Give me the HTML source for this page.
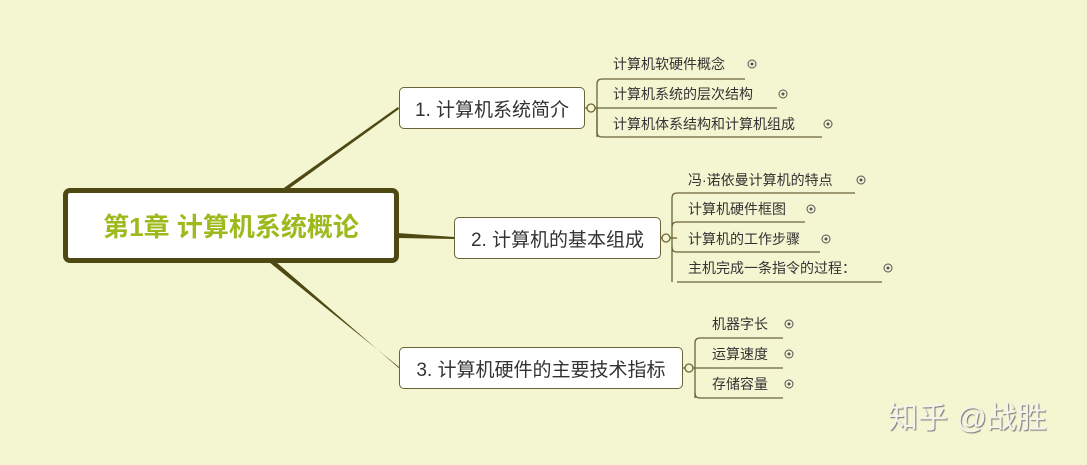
<!DOCTYPE html>
<html><head><meta charset="utf-8"><style>
body{margin:0;width:1087px;height:465px;background:#f4f5d1;position:relative;overflow:hidden;font-family:"Liberation Sans","Noto Sans CJK SC",sans-serif;}
.t{position:absolute;font-size:14px;color:#333;white-space:nowrap;line-height:18px}
.b{position:absolute;background:#fff;border:1px solid #6b6438;border-radius:5px;box-sizing:border-box;font-size:19px;color:#333;display:flex;align-items:center;justify-content:center;white-space:nowrap}
</style></head><body>
<svg width="1087" height="465" style="position:absolute;left:0;top:0">
<g fill="#4e4812">
<polygon points="281,190 287,190 399,109 398,107"/>
<polygon points="397,233 397,238 454,239 454,237"/>
<polygon points="269,262 276,262 400,369 399,367"/>
</g>
<g stroke="#6b6438" stroke-width="1.3" fill="none">
<path d="M597,137 V84 q0,-5 5,-5 H745"/><path d="M585,108 H777"/><path d="M597,108 V132 q0,5 5,5 H822"/>
<circle cx="591" cy="108" r="4" fill="#f4f5d1"/>
<path d="M672,282 V198 q0,-5 5,-5 H855"/><path d="M661,238 H677"/><path d="M672,227 q0,-5 5,-5 H805"/><path d="M672,247 q0,5 5,5 H820"/><path d="M677,282 H882"/>
<circle cx="666" cy="238" r="4" fill="#f4f5d1"/>
<path d="M695,398 V343 q0,-5 5,-5 H783"/><path d="M683,368 H783"/><path d="M695,393 q0,5 5,5 H783"/>
<circle cx="689" cy="368" r="4" fill="#f4f5d1"/>
</g>
<g stroke="#555" stroke-width="1" fill="none">
<circle cx="752" cy="64" r="4"/><circle cx="783" cy="94" r="4"/><circle cx="828" cy="124" r="4"/>
<circle cx="861" cy="180" r="4"/><circle cx="811" cy="209" r="4"/><circle cx="826" cy="239" r="4"/><circle cx="888" cy="268" r="4"/>
<circle cx="789" cy="324" r="4"/><circle cx="789" cy="354" r="4"/><circle cx="789" cy="384" r="4"/>
</g>
<g fill="#555">
<circle cx="752" cy="64" r="1.5"/><circle cx="783" cy="94" r="1.5"/><circle cx="828" cy="124" r="1.5"/>
<circle cx="861" cy="180" r="1.5"/><circle cx="811" cy="209" r="1.5"/><circle cx="826" cy="239" r="1.5"/><circle cx="888" cy="268" r="1.5"/>
<circle cx="789" cy="324" r="1.5"/><circle cx="789" cy="354" r="1.5"/><circle cx="789" cy="384" r="1.5"/>
</g>
</svg>
<div class="b" style="left:63px;top:188px;width:336px;height:75px;border:5px solid #4e4812;border-radius:7px;font-size:26px;font-weight:bold;color:#9cba1c">第1章 计算机系统概论</div>
<div class="b" style="left:399px;top:87px;width:186px;height:42px">1. 计算机系统简介</div>
<div class="b" style="left:454px;top:217px;width:207px;height:42px">2. 计算机的基本组成</div>
<div class="b" style="left:399px;top:347px;width:284px;height:42px">3. 计算机硬件的主要技术指标</div>
<div class="t" style="left:613px;top:55px">计算机软硬件概念</div>
<div class="t" style="left:613px;top:85px">计算机系统的层次结构</div>
<div class="t" style="left:613px;top:115px">计算机体系结构和计算机组成</div>
<div class="t" style="left:688px;top:171px">冯·诺依曼计算机的特点</div>
<div class="t" style="left:688px;top:200px">计算机硬件框图</div>
<div class="t" style="left:688px;top:230px">计算机的工作步骤</div>
<div class="t" style="left:688px;top:259px">主机完成一条指令的过程：</div>
<div class="t" style="left:712px;top:315px">机器字长</div>
<div class="t" style="left:712px;top:345px">运算速度</div>
<div class="t" style="left:712px;top:375px">存储容量</div>
<div class="t" style="left:888px;top:402px;font-size:30px;line-height:34px;color:#f4f4ea;text-shadow:1px 1px 1px #777">知乎 @战胜</div>
</body></html>
